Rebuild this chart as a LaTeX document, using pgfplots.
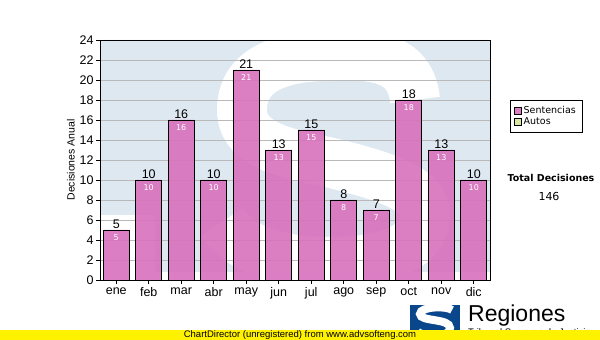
\documentclass[border=0pt]{standalone}
\usepackage{pgfplots}
\pgfplotsset{compat=1.18}
\usepackage{fontspec}
\setmainfont{Liberation Sans}
\newfontfamily\verd{DejaVu Sans}
\definecolor{barpink}{RGB}{216,112,188}
\definecolor{wmblue}{RGB}{222,232,241}
\definecolor{gridgray}{RGB}{185,185,185}
\definecolor{autosgreen}{RGB}{216,232,160}
\definecolor{logoblue}{RGB}{10,70,140}
\begin{document}
\begin{tikzpicture}[x=1pt,y=1pt]
\path[use as bounding box] (0,0) rectangle (600,340);
% watermark (image coords: x, 340-y)
\begin{scope}
\clip (100,60) rectangle (490,300);
\fill[wmblue] (100,300) -- (490,300) -- (490,68) -- (155,68) -- (155,125) -- (100,125) -- cycle;
\begin{scope}
\clip (100,300) -- (490,300) -- (490,68) -- (155,68) -- (155,125) -- (100,125) -- cycle;
\draw[white,line width=50pt] (415,240) .. controls (410,290) and (360,284) .. (330,284)
  .. controls (280,284) and (242,270) .. (242,230)
  .. controls (242,190) and (300,185) .. (340,175)
  .. controls (390,162) and (425,150) .. (425,125)
  .. controls (425,90) and (380,78) .. (330,78)
  .. controls (280,78) and (240,90) .. (222,118);
\end{scope}
\end{scope}
\begin{axis}[
  at={(100pt,60pt)}, anchor=south west,
  scale only axis, width=390pt, height=240pt,
  xmin=-0.5, xmax=11.5, ymin=0, ymax=24,
  ytick={0,2,...,24},
  xtick={0,...,11},
  xticklabels={ene,feb,mar,abr,may,jun,jul,ago,sep,oct,nov,dic},
  ymajorgrids, grid style={gridgray, line width=0.8pt},
  axis line style={black, line width=0.9pt},
  tick style={black, line width=0.6pt},
  major tick length=4pt,
  tick align=outside,
  xtick pos=bottom, ytick pos=left,
  /pgf/number format/assume math mode=true,
  tick label style={font=\fontsize{12.5}{14}\selectfont},
  yticklabel style={xshift=1pt},
  ylabel={Decisiones Anual},
  ylabel style={font=\fontsize{10.5}{12}\selectfont, yshift=-2pt},
  axis background/.style={fill=none},
  legend style={at={(1.051,0.75)}, anchor=north west, draw=black, line width=0.6pt,
    font=\verd\fontsize{9.5}{11}\selectfont, inner xsep=4pt, inner ysep=4pt, row sep=-1pt, cells={anchor=west}},
  legend cell align=left,
]
\addplot[ybar, bar width=0.8, bar shift=0pt, fill=barpink, fill opacity=0.9, draw=black, line width=0.8pt,
  nodes near coords,
  every node near coord/.append style={black, font=\fontsize{12.5}{14}\selectfont, text opacity=1, inner sep=1pt},
  area legend,
  legend image code/.code={\draw[fill=barpink,draw=black,line width=0.5pt] (0pt,-3.5pt) rectangle (7pt,3.5pt);}
] coordinates {(0,5) (1,10) (2,16) (3,10) (4,21) (5,13) (6,15) (7,8) (8,7) (9,18) (10,13) (11,10)};
\addlegendentry{Sentencias}
\addlegendimage{legend image code/.code={\draw[fill=autosgreen,draw=black,line width=0.5pt] (0pt,-3.5pt) rectangle (7pt,3.5pt);}}
\addlegendentry{Autos}
\addplot[ybar, bar width=0.8, bar shift=0pt, draw=none, fill=none, forget plot,
  nodes near coords,
  every node near coord/.append style={white, font=\verd\fontsize{8}{9}\selectfont, anchor=north, yshift=-3pt, inner sep=1pt}
] coordinates {(0,5) (1,10) (2,16) (3,10) (4,21) (5,13) (6,15) (7,8) (8,7) (9,18) (10,13) (11,10)};
\end{axis}
% side texts
\node[font=\verd\bfseries\fontsize{9.5}{11}\selectfont] at (551,162) {Total Decisiones};
\node[font=\verd\fontsize{11}{13}\selectfont] at (549,144) {146};
% logo
\begin{scope}
\clip (410,0) rectangle (460,35);
\fill[logoblue] (410,0) rectangle (460,35);
\draw[white,line width=8pt] (452,30) .. controls (448,34) and (420,34) .. (420,26) .. controls (420,18) and (450,22) .. (450,12) .. controls (450,2) and (425,2) .. (418,8);
\end{scope}
\node[anchor=west, font=\fontsize{23}{26}\selectfont, inner sep=0pt] at (468,24) {Regiones};
\node[anchor=west, font=\fontsize{9.5}{11}\selectfont, inner sep=0pt] at (468,7) {Tribunal Supremo de Justicia};
% bottom bar
\fill[yellow] (0,0) rectangle (600,10);
\node[font=\fontsize{9.5}{11}\selectfont, inner sep=0pt] at (300,5) {ChartDirector (unregistered) from www.advsofteng.com};
\end{tikzpicture}
\end{document}
